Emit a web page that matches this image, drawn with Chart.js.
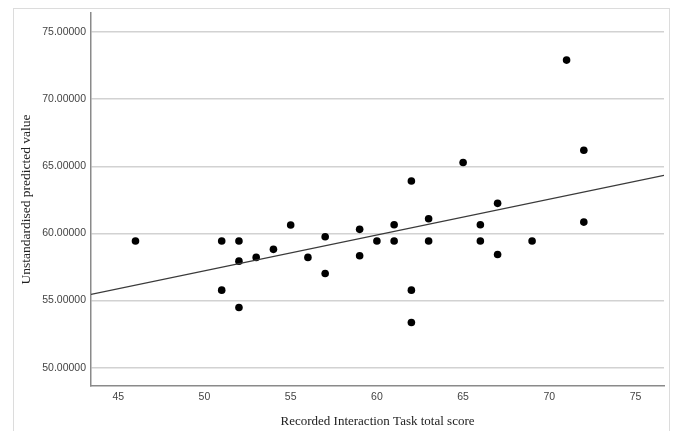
<!DOCTYPE html>
<html>
<head>
<meta charset="utf-8">
<script src="https://cdn.jsdelivr.net/npm/chart.js@4"></script>
<style>
  html, body { margin: 0; padding: 0; background: #fff; }
  #wrap { position: relative; width: 676px; height: 431px; }
  #frame { position: absolute; left: 13px; top: 8px; width: 657px; height: 430px; border: 1px solid #dcdcdc; box-sizing: border-box; }
  canvas { position: absolute; left: 0; top: 0; }
</style>
</head>
<body>
<div id="wrap">
  <div id="frame"></div>
  <canvas id="myChart" width="676" height="431"></canvas>
</div>
<script>
// recorded interaction task total score vs unstandardised predicted value
const scores = [46, 51, 51, 52, 52, 52, 53, 54, 55, 56, 57, 57, 59, 59, 60, 61, 61,
  62, 62, 62, 63, 63, 65, 66, 66, 67, 67, 69, 71, 72, 72];
const predicted = [59.43, 59.43, 55.77, 59.43, 57.93, 54.48, 58.21, 58.81, 60.62, 58.21, 59.75, 57.01, 60.30, 58.33, 59.43, 60.64, 59.43,
  63.90, 55.77, 53.36, 61.09, 59.43, 65.28, 60.64, 59.43, 62.24, 58.43, 59.43, 72.91, 66.19, 60.84];
// fit line end points (at the axis edges)
const fitX = [43.42, 76.65];
const fitY = [55.45, 64.33];
const xTicks = [45, 50, 55, 60, 65, 70, 75];
const yTicks = [50, 55, 60, 65, 70, 75];

const ctx = document.getElementById('myChart');

new Chart(ctx, {
  type: 'scatter',
  data: {
    datasets: [{
      label: 'Fit',
      type: 'line',
      data: fitX.map((x, i) => ({ x: x, y: fitY[i] })),
      borderColor: '#3a3a3a',
      borderWidth: 1.3,
      pointRadius: 0,
      fill: false
    }, {
      label: 'Predicted',
      data: scores.map((x, i) => ({ x: x, y: predicted[i] })),
      backgroundColor: '#000',
      borderColor: '#000',
      pointRadius: 3.8,
      borderWidth: 0
    }]
  },
  options: {
    responsive: false,
    animation: false,
    layout: { padding: { top: 13, right: 12, left: 0, bottom: 0 } },
    plugins: { legend: { display: false }, tooltip: { enabled: false } },
    scales: {
      x: {
        type: 'linear',
        min: 43.42,
        max: 76.65,
        afterBuildTicks: (s) => { s.ticks = xTicks.map(v => ({ value: v })); },
        afterFit: (s) => { s.height = 45; },
        grid: { display: false, drawTicks: false },
        border: { color: '#8a8a8a', width: 1.5 },
        ticks: { padding: 5, color: '#444', font: { family: 'Liberation Sans', size: 10.5 } },
        title: {
          display: true,
          text: 'Recorded Interaction Task total score',
          color: '#222',
          font: { family: 'Liberation Serif', size: 13 },
          padding: { top: 0, bottom: 2 }
        }
      },
      y: {
        min: 48.63,
        max: 76.42,
        afterBuildTicks: (s) => { s.ticks = yTicks.map(v => ({ value: v })); },
        afterFit: (s) => { s.width = 91; },
        grid: { color: '#d2d2d2', lineWidth: 1.5, drawTicks: false },
        border: { color: '#8a8a8a', width: 1.5 },
        ticks: {
          padding: 5,
          color: '#444',
          font: { family: 'Liberation Sans', size: 10.5 },
          callback: (v) => v.toFixed(5)
        },
        title: {
          display: true,
          text: 'Unstandardised predicted value',
          color: '#222',
          font: { family: 'Liberation Serif', size: 13.5 },
          padding: { top: 18, bottom: 0 }
        }
      }
    }
  }
});
</script>
</body>
</html>
